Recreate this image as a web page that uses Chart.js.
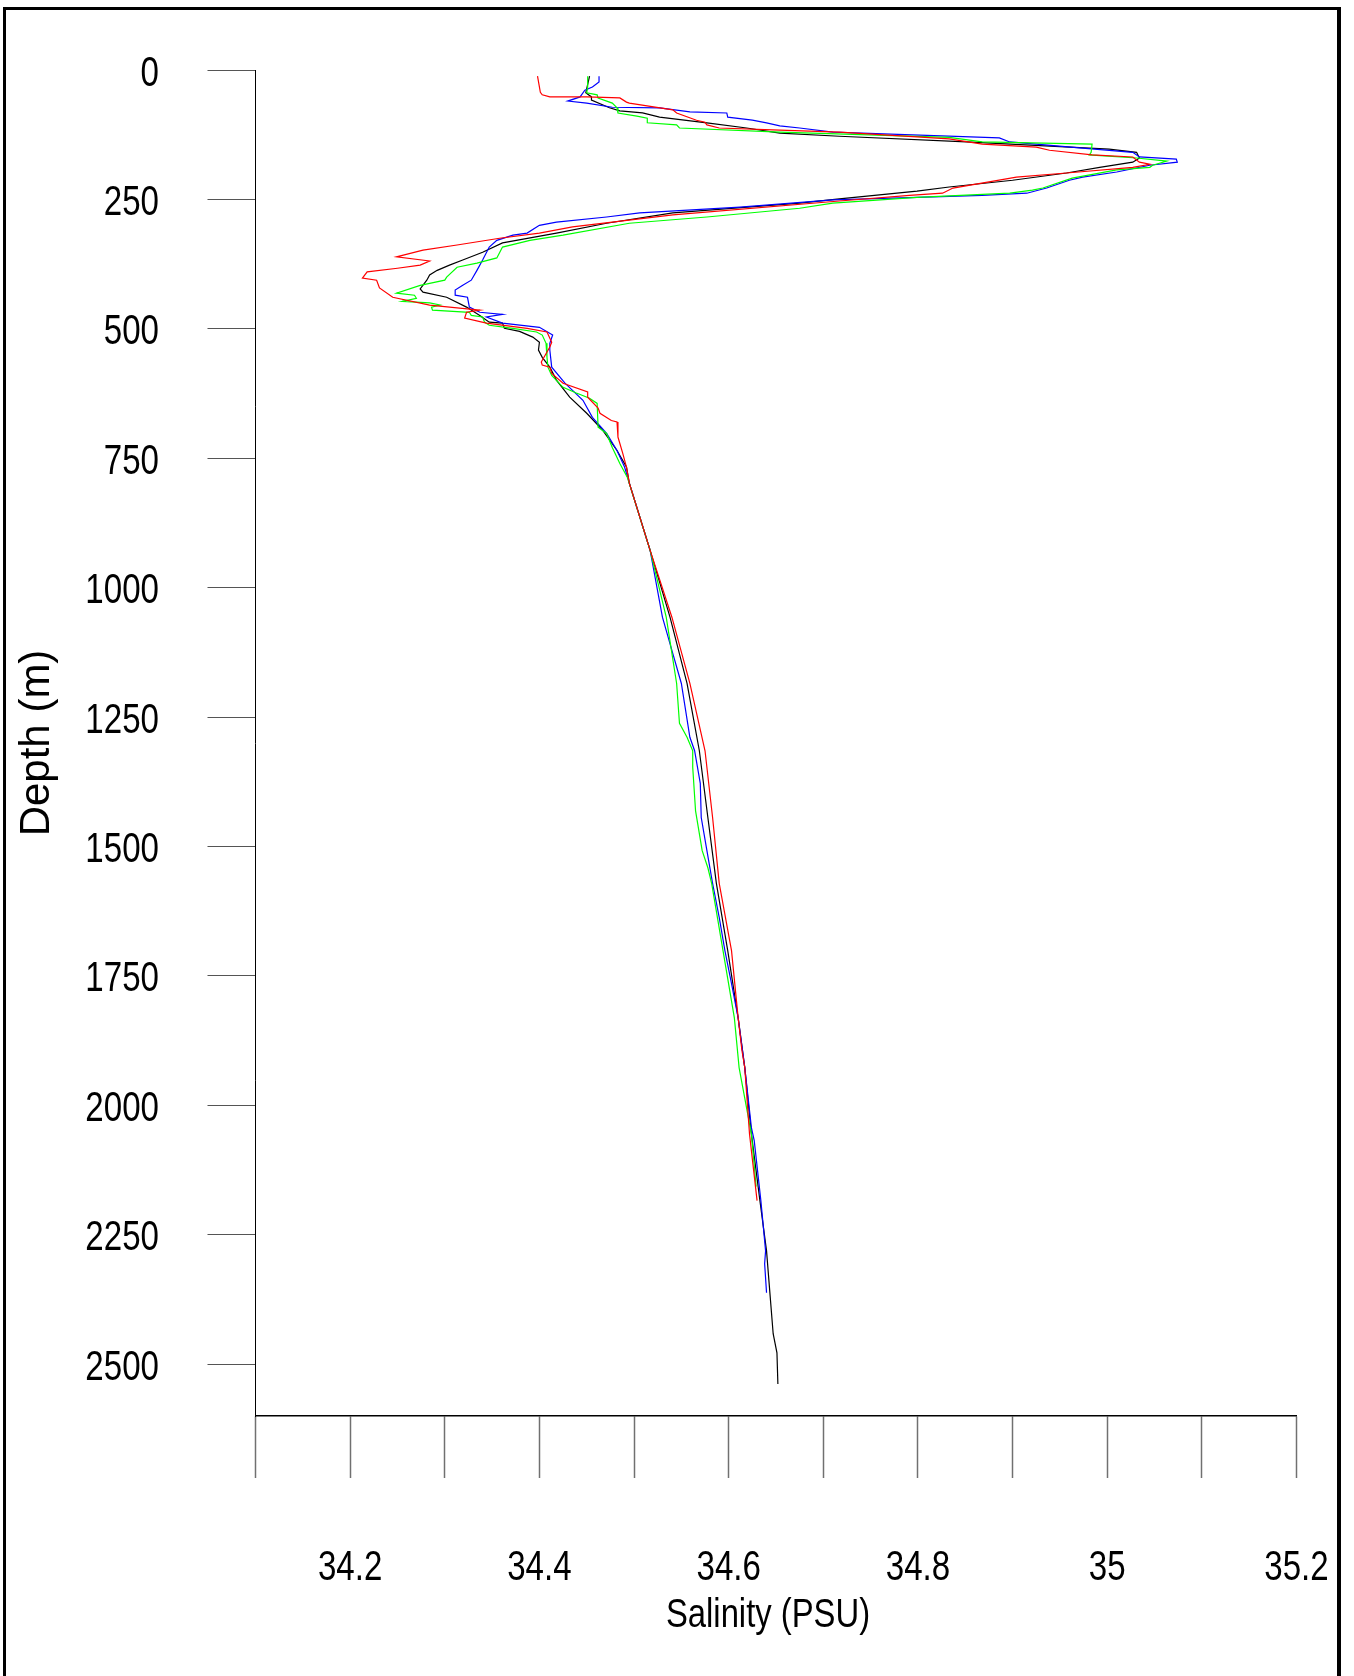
<!DOCTYPE html>
<html>
<head>
<meta charset="utf-8">
<script src="https://cdn.jsdelivr.net/npm/chart.js@4.4.1/dist/chart.umd.min.js"></script>
<style>
  html, body { margin: 0; padding: 0; background: #fff; }
  canvas { display: block; }
</style>
</head>
<body>
<canvas id="profile" width="1354" height="1676" style="width:1354px;height:1676px"></canvas>
<script>
// salinity (PSU), depth (m) pairs
const red = [[34.398,12],[34.401,43],[34.403,48],[34.411,52],[34.450,52],[34.485,54],[34.492,62],[34.495,64],[34.541,77],[34.545,83],[34.566,97],[34.575,101],[34.577,106],[34.590,112],[34.654,116],[34.717,120],[34.833,133],[34.868,143],[34.925,149],[34.939,155],[34.984,164],[35.027,168],[35.034,178],[35.045,182],[35.027,188],[34.957,199],[34.904,207],[34.837,228],[34.826,238],[34.791,242],[34.717,253],[34.541,280],[34.435,303],[34.400,315],[34.358,325],[34.313,338],[34.277,348],[34.249,361],[34.284,369],[34.274,377],[34.250,383],[34.218,390],[34.213,402],[34.228,406],[34.231,421],[34.245,439],[34.284,454],[34.337,464],[34.323,468],[34.321,479],[34.344,489],[34.387,499],[34.408,506],[34.413,526],[34.411,535],[34.402,564],[34.403,570],[34.411,574],[34.413,586],[34.425,605],[34.451,622],[34.451,632],[34.462,653],[34.464,663],[34.476,677],[34.482,680],[34.483,709],[34.488,740],[34.492,767],[34.495,798],[34.517,928],[34.540,1057],[34.559,1185],[34.575,1315],[34.583,1444],[34.590,1571],[34.603,1701],[34.610,1831],[34.614,1894],[34.617,1927],[34.622,2055],[34.630,2184]];

const green = [[34.451,12],[34.451,33],[34.450,44],[34.461,48],[34.462,54],[34.477,64],[34.482,73],[34.483,83],[34.503,89],[34.514,93],[34.514,102],[34.545,106],[34.548,112],[34.654,120],[34.833,130],[34.868,139],[34.984,143],[34.983,159],[34.981,164],[35.031,170],[35.063,176],[35.048,184],[35.045,188],[35.010,193],[34.963,209],[34.932,228],[34.921,232],[34.897,238],[34.799,246],[34.710,257],[34.675,267],[34.577,284],[34.495,296],[34.425,319],[34.390,329],[34.361,342],[34.355,363],[34.334,373],[34.313,381],[34.302,400],[34.300,406],[34.284,412],[34.274,416],[34.249,431],[34.268,435],[34.270,441],[34.255,447],[34.284,450],[34.295,454],[34.286,458],[34.287,464],[34.326,468],[34.328,474],[34.340,477],[34.342,487],[34.347,493],[34.372,499],[34.397,506],[34.403,512],[34.407,528],[34.408,555],[34.409,574],[34.413,590],[34.425,613],[34.439,624],[34.453,634],[34.461,644],[34.462,690],[34.471,702],[34.477,729],[34.485,760],[34.493,787],[34.517,928],[34.534,1057],[34.545,1185],[34.548,1262],[34.556,1289],[34.562,1315],[34.562,1347],[34.565,1431],[34.572,1508],[34.578,1541],[34.582,1571],[34.594,1701],[34.606,1831],[34.611,1927],[34.624,2055],[34.629,2157]];

const blue = [[34.463,12],[34.463,23],[34.456,33],[34.448,39],[34.443,52],[34.430,60],[34.450,64],[34.477,72],[34.527,73],[34.559,81],[34.598,83],[34.599,91],[34.625,97],[34.640,102],[34.654,108],[34.675,112],[34.710,120],[34.886,131],[34.897,139],[34.974,151],[35.027,159],[35.034,168],[35.073,172],[35.074,178],[35.045,184],[35.010,197],[34.974,207],[34.960,213],[34.936,228],[34.915,238],[34.868,242],[34.799,246],[34.710,251],[34.612,265],[34.506,276],[34.471,284],[34.418,294],[34.400,300],[34.387,315],[34.372,319],[34.355,329],[34.347,342],[34.340,367],[34.334,387],[34.328,406],[34.319,416],[34.311,425],[34.311,435],[34.324,439],[34.326,458],[34.337,468],[34.361,472],[34.344,477],[34.361,489],[34.400,497],[34.414,512],[34.411,528],[34.411,541],[34.413,574],[34.427,605],[34.446,638],[34.456,671],[34.471,702],[34.482,735],[34.490,767],[34.495,798],[34.517,928],[34.530,1057],[34.540,1121],[34.550,1185],[34.559,1289],[34.564,1315],[34.570,1378],[34.571,1444],[34.577,1508],[34.583,1571],[34.590,1637],[34.596,1701],[34.603,1765],[34.610,1831],[34.617,1927],[34.624,2043],[34.627,2068],[34.634,2184],[34.639,2281],[34.638,2306],[34.640,2362]];

const black = [[34.453,12],[34.449,44],[34.455,52],[34.455,58],[34.474,73],[34.485,79],[34.509,83],[34.527,91],[34.577,102],[34.619,112],[34.654,122],[34.717,128],[34.851,139],[35.002,153],[35.031,159],[35.034,170],[35.027,178],[34.992,188],[34.957,199],[34.900,213],[34.833,226],[34.799,234],[34.717,249],[34.675,257],[34.541,276],[34.471,296],[34.418,315],[34.361,334],[34.340,352],[34.319,367],[34.305,377],[34.292,387],[34.284,396],[34.281,406],[34.274,423],[34.277,429],[34.302,439],[34.323,458],[34.337,474],[34.347,487],[34.361,489],[34.363,499],[34.379,505],[34.393,516],[34.400,526],[34.399,541],[34.403,555],[34.411,574],[34.418,599],[34.432,632],[34.450,663],[34.467,696],[34.482,735],[34.492,767],[34.495,798],[34.517,928],[34.538,1057],[34.556,1185],[34.569,1315],[34.578,1444],[34.587,1571],[34.599,1701],[34.610,1831],[34.617,1927],[34.624,2055],[34.633,2184],[34.640,2281],[34.647,2441],[34.651,2478],[34.652,2538]];

const salinityRange = [34.1, 35.2];
const depthRange = [0, 2600];
const xTitle = 'Salinity (PSU)';
const yTitle = 'Depth (m)';

const sans = "'Liberation Sans', Arial, sans-serif";

function toPoints(rows) {
    return rows.map(([s, d]) => ({ x: s, y: d }));
}

function cast(rows, colour) {
    return {
        data: toPoints(rows),
        showLine: true,
        borderColor: colour,
        borderWidth: 1.2,
        pointRadius: 0,
        fill: false
    };
}

// no narrow face installed, so squeeze the regular one
function narrowText(c, text, x, y, align, size, squeeze) {
    c.save();
    c.font = size + 'px ' + sans;
    c.textAlign = align;
    c.textBaseline = 'alphabetic';
    c.translate(x, y);
    c.scale(squeeze, 1);
    c.fillText(text, 0, 0);
    c.restore();
}

const framePlugin = {
    id: 'frame',
    beforeDraw(chart) {
        const c = chart.ctx;
        c.save();
        c.fillStyle = '#fff';
        c.fillRect(0, 0, chart.width, chart.height);
        c.restore();
    },
    afterDraw(chart) {
        const c = chart.ctx;
        const xs = chart.scales.x;
        const ys = chart.scales.y;
        c.save();
        c.fillStyle = '#000';

        // tick labels, placed from the scales' own ticks
        xs.ticks.forEach(t => {
            if (!t.label) return;
            narrowText(c, t.label, xs.getPixelForValue(t.value), 1580, 'center', 43, 0.77);
        });
        ys.ticks.forEach(t => {
            narrowText(c, t.label, 159, ys.getPixelForValue(t.value) + 15.5, 'right', 43, 0.77);
        });
        narrowText(c, xTitle, 768, 1627, 'center', 40, 0.82);

        // frame
        c.fillRect(3, 7, 3, chart.height);
        c.fillRect(3, 7, 1338, 3);
        c.fillRect(1337, 7, 4, chart.height);
        c.restore();
    }
};

new Chart(document.getElementById('profile').getContext('2d'), {
    type: 'scatter',
    data: {
        datasets: [cast(red, '#ff0000'), cast(green, '#00ff00'), cast(blue, '#0000ff'), cast(black, '#000000')]
    },
    options: {
        responsive: false,
        animation: false,
        layout: { padding: { left: 0, top: 70, right: 57.5, bottom: 0 } },
        plugins: { legend: { display: false }, tooltip: { enabled: false } },
        scales: {
            x: {
                type: 'linear',
                position: 'bottom',
                min: salinityRange[0],
                max: salinityRange[1],
                ticks: {
                    display: false,
                    stepSize: 0.1,
                    autoSkip: false,
                    maxRotation: 0,
                    callback: v => {
                        const t = Math.round(v * 10);
                        return t % 2 === 0 ? String(t / 10) : '';
                    }
                },
                grid: { drawOnChartArea: false, drawTicks: true, tickLength: 62, tickColor: '#707070', tickWidth: 1.5 },
                border: { display: true, color: '#000', width: 1.5 },
                afterFit: s => { s.height = 260; s.paddingLeft = 0; s.paddingRight = 0; }
            },
            y: {
                type: 'linear',
                reverse: true,
                min: depthRange[0],
                max: depthRange[1],
                ticks: {
                    display: false,
                    stepSize: 250,
                    includeBounds: false,
                    callback: v => String(v)
                },
                grid: { drawOnChartArea: false, drawTicks: true, tickLength: 48, tickColor: '#555', tickWidth: 1.2 },
                border: { display: true, color: '#000', width: 1 },
                title: {
                    display: true,
                    text: yTitle,
                    color: '#000',
                    font: { family: sans, size: 42 },
                    padding: { top: 12, bottom: 0 }
                },
                afterFit: s => { s.width = 255.5; s.paddingTop = 0; s.paddingBottom = 0; }
            }
        }
    },
    plugins: [framePlugin]
});
</script>
</body>
</html>
